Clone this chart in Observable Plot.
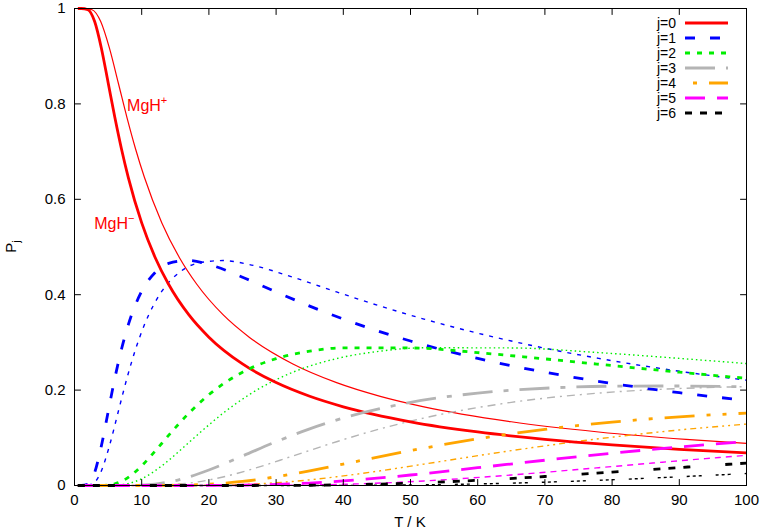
<!DOCTYPE html>
<html><head><meta charset="utf-8">
<script src="https://cdn.jsdelivr.net/npm/d3@7"></script>
<script src="https://cdn.jsdelivr.net/npm/@observablehq/plot@0.6"></script>
<style>
body{margin:0;background:#fff}
#chart{width:765px;height:530px}
</style>
</head><body><div id="chart"></div>
<script>
// Temperatures (K) at which the curves were read
const tMinus = [0.5, 1, 2, 3, 4, 5, 6, 7, 8, 10, 12, 14, 17, 20, 25, 30, 35, 40, 50, 60, 70, 80, 90, 100];
const tPlus  = [0.5, 1.3, 2.6, 3.9, 5.2, 6.5, 7.8, 9.1, 10.4, 13, 15.6, 18.2, 22.1, 26, 32.5, 39, 45.5, 52, 65, 78, 91, 100];

// MgH- populations (thick lines)
const minusJ0 = [1, 1, 0.9973, 0.9726, 0.9168, 0.8449, 0.7719, 0.7050, 0.6461, 0.5505, 0.4781, 0.4219, 0.3581, 0.3110, 0.2548, 0.2157, 0.1870, 0.1650, 0.1336, 0.1122, 0.0967, 0.0850, 0.0758, 0.0684];
const minusJ1 = [0, 0, 0.0027, 0.0274, 0.0831, 0.1541, 0.2246, 0.2862, 0.3368, 0.4073, 0.4466, 0.4656, 0.4716, 0.4633, 0.4366, 0.4058, 0.3761, 0.3489, 0.3029, 0.2665, 0.2375, 0.2140, 0.1946, 0.1783];
const minusJ2 = [0, 0, 0, 0, 0.0001, 0.0009, 0.0035, 0.0087, 0.0170, 0.0413, 0.0722, 0.1050, 0.1514, 0.1904, 0.2375, 0.2660, 0.2816, 0.2887, 0.2884, 0.2786, 0.2654, 0.2514, 0.2376, 0.2246];
const minusJ3 = [0, 0, 0, 0, 0, 0, 0, 0, 0.0001, 0.0009, 0.0031, 0.0073, 0.0179, 0.0326, 0.0619, 0.0918, 0.1188, 0.1415, 0.1743, 0.1937, 0.2039, 0.2082, 0.2086, 0.2067];
const minusJ4 = [0, 0, 0, 0, 0, 0, 0, 0, 0, 0, 0, 0.0002, 0.0009, 0.0026, 0.0085, 0.0183, 0.0308, 0.0449, 0.0731, 0.0979, 0.1178, 0.1329, 0.1440, 0.1518];
const minusJ5 = [0, 0, 0, 0, 0, 0, 0, 0, 0, 0, 0, 0, 0, 0.0001, 0.0006, 0.0022, 0.0051, 0.0095, 0.0220, 0.0373, 0.0530, 0.0677, 0.0808, 0.0921];
const minusJ6 = [0, 0, 0, 0, 0, 0, 0, 0, 0, 0, 0, 0, 0, 0, 0, 0.0002, 0.0005, 0.0014, 0.0049, 0.0109, 0.0189, 0.0280, 0.0376, 0.0470];

// MgH+ populations (thin lines)
const plusJ0 = [1, 1, 0.9973, 0.9726, 0.9168, 0.8449, 0.7719, 0.7050, 0.6461, 0.5505, 0.4781, 0.4219, 0.3581, 0.3110, 0.2548, 0.2157, 0.1870, 0.1650, 0.1336, 0.1122, 0.0967, 0.0883];
const plusJ1 = [0, 0, 0.0027, 0.0274, 0.0831, 0.1541, 0.2246, 0.2862, 0.3368, 0.4073, 0.4466, 0.4656, 0.4716, 0.4633, 0.4366, 0.4058, 0.3761, 0.3489, 0.3029, 0.2665, 0.2375, 0.2208];
const plusJ2 = [0, 0, 0, 0, 0.0001, 0.0009, 0.0035, 0.0087, 0.0170, 0.0413, 0.0722, 0.1050, 0.1514, 0.1904, 0.2375, 0.2660, 0.2816, 0.2887, 0.2884, 0.2786, 0.2654, 0.2557];
const plusJ3 = [0, 0, 0, 0, 0, 0, 0, 0, 0.0001, 0.0009, 0.0031, 0.0073, 0.0179, 0.0326, 0.0619, 0.0918, 0.1188, 0.1415, 0.1743, 0.1937, 0.2039, 0.2073];
const plusJ4 = [0, 0, 0, 0, 0, 0, 0, 0, 0, 0, 0, 0.0002, 0.0009, 0.0026, 0.0085, 0.0183, 0.0308, 0.0449, 0.0731, 0.0979, 0.1178, 0.1287];
const plusJ5 = [0, 0, 0, 0, 0, 0, 0, 0, 0, 0, 0, 0, 0, 0.0001, 0.0006, 0.0022, 0.0051, 0.0095, 0.0220, 0.0373, 0.0530, 0.0633];
const plusJ6 = [0, 0, 0, 0, 0, 0, 0, 0, 0, 0, 0, 0, 0, 0, 0, 0.0002, 0.0005, 0.0014, 0.0049, 0.0109, 0.0189, 0.0251];

const levelNames = ["j=0", "j=1", "j=2", "j=3", "j=4", "j=5", "j=6"];
const levelColors = ["#ff0000", "#0000ff", "#00ee00", "#b4b4b4", "#ffa500", "#ff00ff", "#000000"];
const thickDash = ["none", "10,15", "5,7", "30,11,5,11", "30,12,4,12,4,12", "20,12", "7,8,7,8,7,35"];
const thinDash  = ["none", "4,6", "1.5,3", "8,5,2,5", "6,4,2,4,2,4", "6,5", "3,3,3,3,3,14"];
const legendDashOffset = [0, 0, 0, 0, 50, 0, 0];

const xTicks = [0, 10, 20, 30, 40, 50, 60, 70, 80, 90, 100];
const yTicks = [0, 0.2, 0.4, 0.6, 0.8, 1];

const annotations = [
  {name: "MgH", sup: "+", T: 7.9, P: 0.784},
  {name: "MgH", sup: "\u2212", T: 3.0, P: 0.536}
];

const minusSeries = [minusJ0, minusJ1, minusJ2, minusJ3, minusJ4, minusJ5, minusJ6];
const plusSeries = [plusJ0, plusJ1, plusJ2, plusJ3, plusJ4, plusJ5, plusJ6];
const rows = (ts, vals) => ts.map((T, i) => ({T, P: vals[i]}));

const tickShape = {draw(ctx, l) { ctx.moveTo(0, 0); ctx.lineTo(0, -l); }};
const FONT = "'Liberation Sans', Arial, Helvetica, sans-serif";

const marks = [];
plusSeries.forEach((vals, j) => {
  marks.push(Plot.line(rows(tPlus, vals), {
    x: "T", y: "P", stroke: levelColors[j], strokeWidth: j === 0 ? 1.2 : 1.4,
    strokeDasharray: thinDash[j], strokeLinecap: "butt", strokeLinejoin: "round", curve: "monotone-x"
  }));
});
minusSeries.forEach((vals, j) => {
  marks.push(Plot.line(rows(tMinus, vals), {
    x: "T", y: "P", stroke: levelColors[j], strokeWidth: 2.8,
    strokeDasharray: thickDash[j], strokeLinecap: "butt", strokeLinejoin: "round", curve: "monotone-x"
  }));
});
marks.push(
  Plot.frame({stroke: "black", strokeWidth: 1}),
  Plot.vector(xTicks, {x: d => d, frameAnchor: "bottom", length: 6, rotate: 0, anchor: "start", shape: tickShape, stroke: "black", strokeWidth: 1, fill: "none"}),
  Plot.vector(xTicks, {x: d => d, frameAnchor: "top", length: 6, rotate: 180, anchor: "start", shape: tickShape, stroke: "black", strokeWidth: 1, fill: "none"}),
  Plot.vector(yTicks, {y: d => d, frameAnchor: "left", length: 6, rotate: 90, anchor: "start", shape: tickShape, stroke: "black", strokeWidth: 1, fill: "none"}),
  Plot.vector(yTicks, {y: d => d, frameAnchor: "right", length: 6, rotate: -90, anchor: "start", shape: tickShape, stroke: "black", strokeWidth: 1, fill: "none"}),
  Plot.axisX({ticks: xTicks, tickSize: 0, tickPadding: 9, tickFormat: d => String(d), label: null, fontSize: 15}),
  Plot.axisY({ticks: yTicks, tickSize: 0, tickPadding: 9, tickFormat: d => String(d), label: null, fontSize: 15})
);

const plot = Plot.plot({
  width: 765, height: 530,
  marginLeft: 74, marginRight: 19, marginTop: 8, marginBottom: 45,
  x: {domain: [0, 100]},
  y: {domain: [0, 1]},
  style: {fontFamily: FONT, fontSize: "15px", color: "black", background: "white"},
  marks
});
document.getElementById("chart").appendChild(plot);

const svg = d3.select(plot);
const xs = plot.scale("x"), ys = plot.scale("y");
const frameLeft = 74, frameRight = 765 - 19, frameTop = 8, frameBottom = 530 - 45;

// annotations
annotations.forEach(a => {
  const t = svg.append("text")
    .attr("x", xs.apply(a.T)).attr("y", ys.apply(a.P))
    .attr("text-anchor", "start")
    .attr("fill", "#ff0000").attr("font-family", FONT).attr("font-size", 16);
  t.append("tspan").text(a.name);
  t.append("tspan").attr("dy", -7).attr("font-size", 11).text(a.sup);
});

// axis labels
svg.append("text").attr("x", (frameLeft + frameRight) / 2).attr("y", 527)
  .attr("text-anchor", "middle").attr("font-family", FONT).attr("font-size", 15).text("T / K");
const yl = svg.append("text")
  .attr("transform", `translate(${16},${(frameTop + frameBottom) / 2}) rotate(-90)`)
  .attr("text-anchor", "middle").attr("font-family", FONT).attr("font-size", 15);
yl.append("tspan").text("P");
yl.append("tspan").attr("dy", 4).attr("font-size", 11).text("j");

// legend (thick-line styles)
const lg = svg.append("g").attr("font-family", FONT).attr("font-size", 14);
levelNames.forEach((name, j) => {
  const cy = frameTop + 15 + 15 * j;
  lg.append("text").attr("x", frameRight - 70).attr("y", cy + 5).attr("text-anchor", "end").text(name);
  lg.append("line").attr("x1", frameRight - 61).attr("x2", frameRight - 18).attr("y1", cy).attr("y2", cy)
    .attr("stroke", levelColors[j]).attr("stroke-width", 2.8)
    .attr("stroke-dasharray", thickDash[j]).attr("stroke-dashoffset", legendDashOffset[j]);
});
</script>
</body></html>
